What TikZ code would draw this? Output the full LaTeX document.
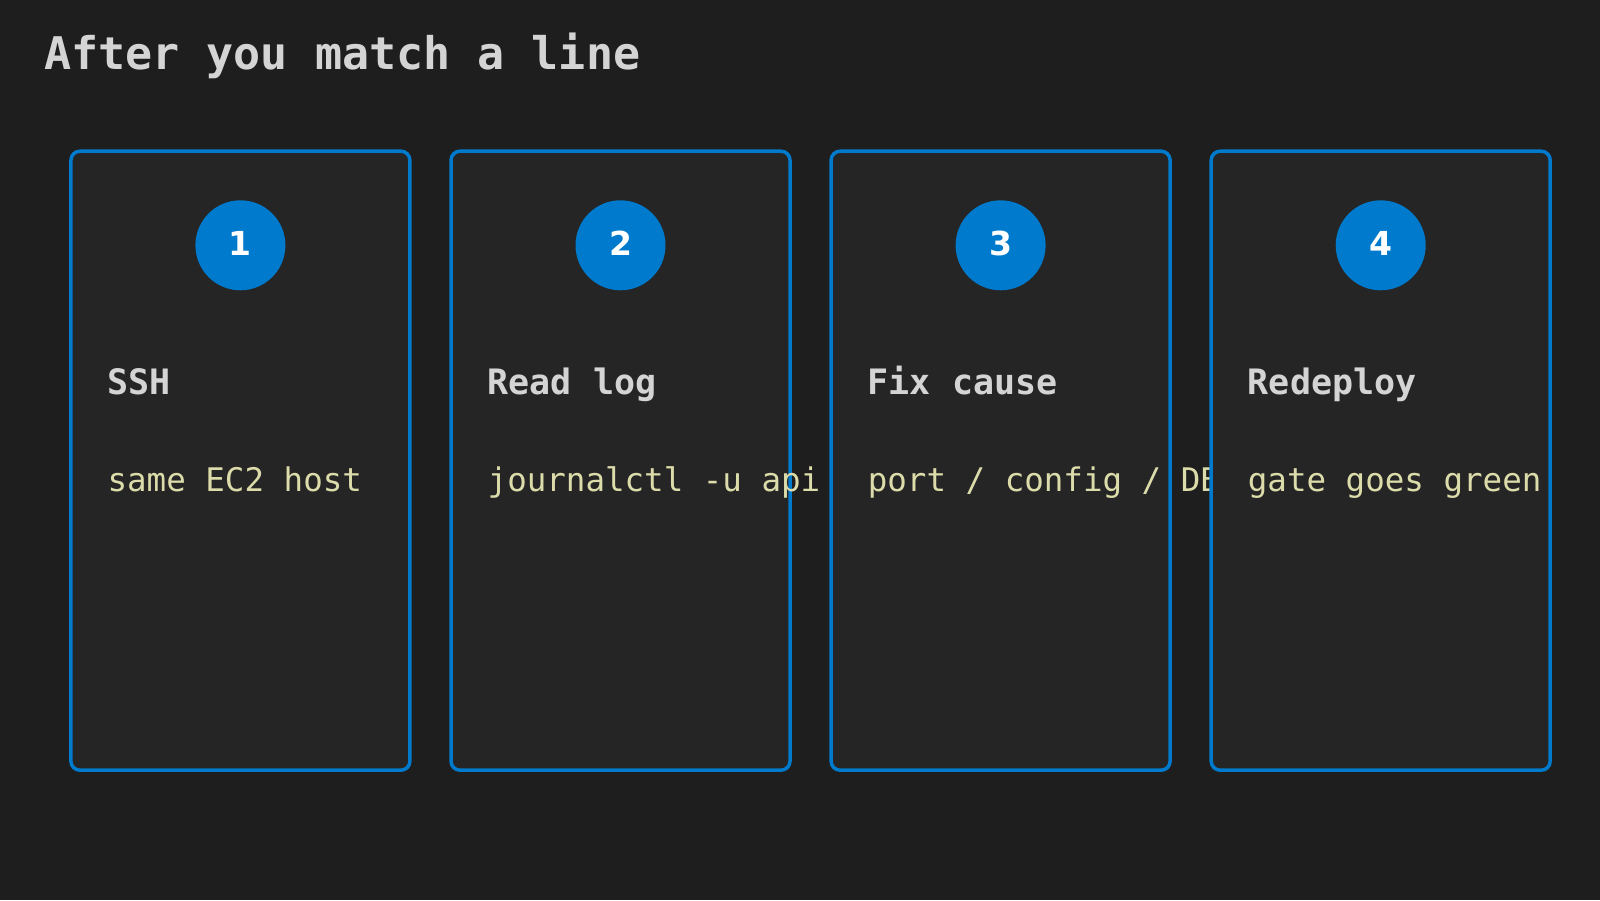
\documentclass[tikz,border=0pt]{standalone}
\usepackage{fontspec}
\setmonofont{DejaVu Sans Mono}
\newfontfamily\numfont{DejaVu Sans}
\definecolor{bgc}{HTML}{1E1E1E}
\definecolor{cardc}{HTML}{252526}
\definecolor{bluec}{HTML}{007ACC}
\definecolor{titlec}{HTML}{D4D4D4}
\definecolor{bodyc}{HTML}{DCDCAA}
\tikzset{
  card/.style={draw=bluec, fill=cardc, line width=3.5pt, rounded corners=9pt,
    minimum width=339pt, minimum height=619pt, inner sep=0pt},
  badge/.style={circle, fill=bluec, minimum size=90pt, inner sep=0pt,
    text=white, font=\numfont\bfseries\fontsize{33}{36}\selectfont},
  head/.style={anchor=base west, inner sep=0pt, text=titlec,
    font=\ttfamily\bfseries\fontsize{35}{40}\selectfont},
  body/.style={anchor=base west, inner sep=0pt, text=bodyc,
    font=\ttfamily\fontsize{32.5}{38}\selectfont},
  ttl/.style={anchor=base west, inner sep=0pt, text=titlec,
    font=\ttfamily\bfseries\fontsize{45}{54}\selectfont}
}
\begin{document}
\begin{tikzpicture}[x=1pt,y=-1pt]
\fill[bgc] (0,0) rectangle (1600,900);
\useasboundingbox (0,0) rectangle (1600,900);
\node[ttl] (title) at (44,69.4) {After you match a line};
\foreach \i/\h/\b in {1/{SSH}/{same EC2 host},
                      2/{Read log}/{journalctl -u api},
                      3/{Fix cause}/{port / config / DB},
                      4/{Redeploy}/{gate goes green}}{
  \pgfmathsetmacro{\cx}{240.4+380.1*(\i-1)}
  \node[card] (c\i) at (\cx,460.7) {};
  \node[badge] (n\i) at (\cx,245.3) {\raisebox{3.5pt}{\i}};
  \node[head] (h\i) at (\cx-133,394) {\h};
  \node[body] (b\i) at (\cx-133,491.5) {\b};
}
\end{tikzpicture}
\end{document}
